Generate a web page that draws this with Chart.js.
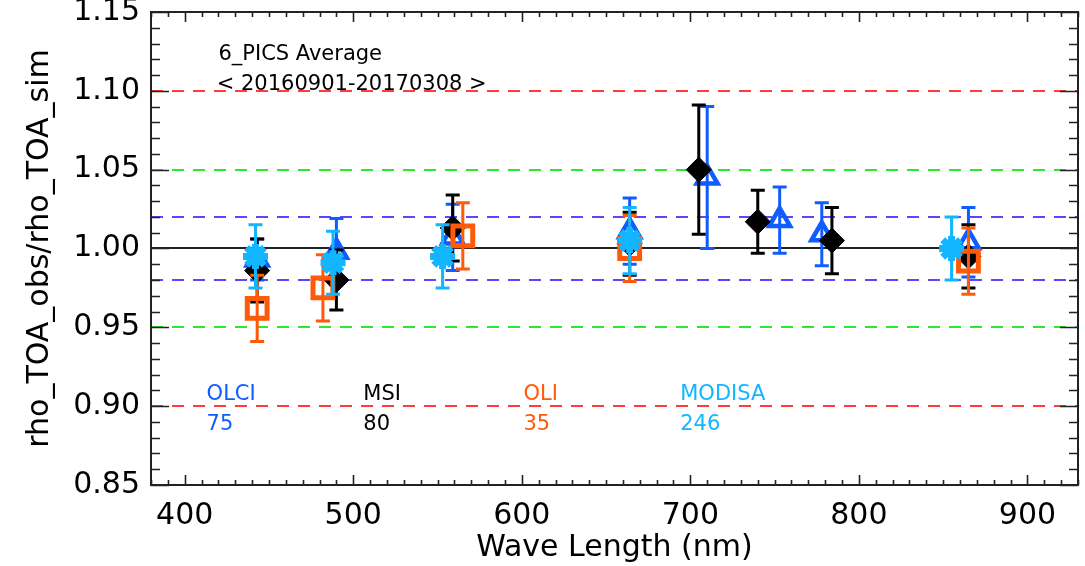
<!DOCTYPE html>
<html>
<head>
<meta charset="utf-8">
<script src="https://cdn.jsdelivr.net/npm/chart.js@4.4.1/dist/chart.umd.min.js"></script>
<style>
  html, body { margin: 0; padding: 0; background: #ffffff; }
  #wrap { width: 1085px; height: 566px; }
</style>
</head>
<body>
<div id="wrap"><canvas id="c" width="1085" height="566"></canvas></div>
<script>
// TOA reflectance ratio (observed / simulated) per band, averaged over 6 PICS sites
const olciWave  = [443, 490, 559, 664, 710, 753, 778, 865];
const olciRatio = [0.993, 0.998, 1.007, 1.011, 1.045, 1.018, 1.009, 1.004];
const olciErr   = [0.013, 0.021, 0.021, 0.021, 0.045, 0.021, 0.020, 0.022];

const msiWave  = [443, 490, 559, 664, 705, 740, 784, 865];
const msiRatio = [0.986, 0.980, 1.013, 1.003, 1.050, 1.017, 1.005, 0.995];
const msiErr   = [0.020, 0.019, 0.021, 0.020, 0.041, 0.020, 0.021, 0.020];

const oliWave  = [443, 482, 565, 664, 865];
const oliRatio = [0.962, 0.975, 1.008, 1.000, 0.992];
const oliErr   = [0.021, 0.021, 0.021, 0.021, 0.021];

const modisWave  = [442, 488, 553, 664, 855];
const modisRatio = [0.995, 0.991, 0.995, 1.005, 1.000];
const modisErr   = [0.020, 0.020, 0.020, 0.021, 0.020];

const sensorNames  = ['OLCI', 'MSI', 'OLI', 'MODISA'];
const sensorCounts = [75, 80, 35, 246];

// reference levels
const unityLevel  = [1.00];
const level2pct   = [0.98, 1.02];
const level5pct   = [0.95, 1.05];
const level10pct  = [0.90, 1.10];

// axis ticks
const xTicks = [400, 500, 600, 700, 800, 900];
const yTicks = [0.85, 0.90, 0.95, 1.00, 1.05, 1.10, 1.15];

const titleLines = ['6_PICS Average', '< 20160901-20170308 >'];

const FONT = 'DejaVu Sans';
const C_OLCI = '#0f5cff';
const C_MSI = '#000000';
const C_OLI = '#ff5a0a';
const C_MODIS = '#12b5ff';

function pts(w, r, e) {
  return w.map((x, i) => ({ x: x, y: r[i], e: e[i] }));
}

// vertical error bars, drawn just beneath each series' markers
const errorBars = {
  id: 'errorBars',
  beforeDatasetDraw(chart, args) {
    const ds = chart.data.datasets[args.index];
    const xs = chart.scales.x, ys = chart.scales.y;
    const ctx = chart.ctx;
    ctx.save();
    ctx.strokeStyle = ds.errColor;
    ctx.lineWidth = 3;
    ctx.lineCap = 'butt';
    ds.data.forEach(p => {
      const px = xs.getPixelForValue(p.x);
      const yt = ys.getPixelForValue(p.y + p.e);
      const yb = ys.getPixelForValue(p.y - p.e);
      ctx.beginPath();
      ctx.moveTo(px, yt); ctx.lineTo(px, yb);
      ctx.moveTo(px - 7, yt); ctx.lineTo(px + 7, yt);
      ctx.moveTo(px - 7, yb); ctx.lineTo(px + 7, yb);
      ctx.stroke();
    });
    ctx.restore();
  }
};

// horizontal reference lines across the plot
const refLines = {
  id: 'refLines',
  beforeDatasetsDraw(chart) {
    const { ctx, chartArea: a } = chart;
    const ys = chart.scales.y;
    const draw = (vals, color, dash) => {
      ctx.save();
      ctx.strokeStyle = color;
      ctx.lineWidth = 2;
      ctx.setLineDash(dash);
      vals.forEach(v => {
        const py = Math.round(ys.getPixelForValue(v));
        ctx.beginPath();
        ctx.moveTo(a.left, py); ctx.lineTo(a.right, py);
        ctx.stroke();
      });
      ctx.restore();
    };
    draw(level10pct, '#ff3c3c', [12, 9]);
    draw(level5pct, '#2ee82e', [12, 9]);
    draw(level2pct, '#5a46ff', [12, 9]);
    draw(unityLevel, '#222222', []);
  }
};

// plot frame with inward ticks on all four sides, plus text annotations
const frameAndText = {
  id: 'frameAndText',
  afterDraw(chart) {
    const { ctx, chartArea: a } = chart;
    const xs = chart.scales.x, ys = chart.scales.y;
    ctx.save();
    ctx.strokeStyle = '#222222';
    ctx.lineWidth = 2;
    ctx.strokeRect(a.left, a.top, a.right - a.left, a.bottom - a.top);
    ctx.lineWidth = 1.6;
    ctx.beginPath();
    for (let v = 380; v <= 930; v += 10) {
      const px = Math.round(xs.getPixelForValue(v)) + 0.5;
      const len = (v % 100 === 0) ? 10 : 5;
      ctx.moveTo(px, a.bottom); ctx.lineTo(px, a.bottom - len);
      ctx.moveTo(px, a.top); ctx.lineTo(px, a.top + len);
    }
    for (let k = 85; k <= 115; k += 1) {
      const py = Math.round(ys.getPixelForValue(k / 100)) + 0.5;
      const len = (k % 5 === 0) ? 18 : 9;
      ctx.moveTo(a.left, py); ctx.lineTo(a.left + len, py);
      ctx.moveTo(a.right, py); ctx.lineTo(a.right - len, py);
    }
    ctx.stroke();

    // title block
    ctx.fillStyle = '#000000';
    ctx.font = '21px "' + FONT + '"';
    ctx.textBaseline = 'middle';
    ctx.textAlign = 'left';
    ctx.fillText(titleLines[0], xs.getPixelForValue(420), ys.getPixelForValue(1.123));
    ctx.fillText(titleLines[1], xs.getPixelForValue(419), ys.getPixelForValue(1.104));

    // sensor names and sample counts
    const colors = [C_OLCI, C_MSI, C_OLI, C_MODIS];
    const at = [413, 506, 601, 694];
    sensorNames.forEach((n, i) => {
      ctx.fillStyle = colors[i];
      const px = xs.getPixelForValue(at[i]);
      ctx.fillText(n, px, ys.getPixelForValue(0.9075));
      ctx.fillText(String(sensorCounts[i]), px, ys.getPixelForValue(0.8885));
    });
    ctx.restore();
  }
};

new Chart(document.getElementById('c'), {
  type: 'scatter',
  data: {
    datasets: [
      {
        label: 'OLCI', data: pts(olciWave, olciRatio, olciErr), order: 3,
        pointStyle: 'triangle', radius: 12, borderWidth: 4.5,
        borderColor: C_OLCI, backgroundColor: 'rgba(0,0,0,0)', errColor: C_OLCI
      },
      {
        label: 'MSI', data: pts(msiWave, msiRatio, msiErr), order: 2,
        pointStyle: 'rectRot', radius: 12.5, borderWidth: 1,
        borderColor: C_MSI, backgroundColor: C_MSI, errColor: C_MSI
      },
      {
        label: 'OLI', data: pts(oliWave, oliRatio, oliErr), order: 1,
        pointStyle: 'rect', radius: 14, borderWidth: 5,
        borderColor: C_OLI, backgroundColor: 'rgba(0,0,0,0)', errColor: C_OLI
      },
      {
        label: 'MODISA', data: pts(modisWave, modisRatio, modisErr), order: 0,
        pointStyle: 'star', radius: 12.5, borderWidth: 7,
        borderColor: C_MODIS, backgroundColor: C_MODIS, errColor: C_MODIS
      }
    ]
  },
  options: {
    responsive: false,
    animation: false,
    events: [],
    layout: { autoPadding: false, padding: { top: 12, right: 7, left: 0, bottom: 0 } },
    plugins: { legend: { display: false }, tooltip: { enabled: false } },
    scales: {
      x: {
        type: 'linear', min: 380, max: 930,
        grid: { display: false, drawTicks: false },
        border: { display: false },
        afterBuildTicks: s => { s.ticks = xTicks.map(v => ({ value: v })); },
        afterFit: s => { s.height = 81; },
        ticks: {
          font: { family: FONT, size: 30 }, color: '#000000', padding: 13,
          maxRotation: 0, autoSkip: false,
          callback: v => String(v)
        },
        title: {
          display: true, text: 'Wave Length (nm)', color: '#000000',
          font: { family: FONT, size: 30, lineHeight: 1.2 },
          padding: { top: 0, bottom: 0 }
        }
      },
      y: {
        type: 'linear', min: 0.85, max: 1.15,
        grid: { display: false, drawTicks: false },
        border: { display: false },
        afterBuildTicks: s => { s.ticks = yTicks.map(v => ({ value: v })); },
        afterFit: s => { s.width = 151; s.paddingTop = 0; s.paddingBottom = 0; },
        ticks: {
          font: { family: FONT, size: 30, lineHeight: 0.3 }, color: '#000000', padding: 11,
          autoSkip: false,
          callback: v => Number(v).toFixed(2)
        },
        title: {
          display: true, text: 'rho_TOA_obs/rho_TOA_sim', color: '#000000',
          font: { family: FONT, size: 30, lineHeight: 1.2 },
          padding: { top: 22, bottom: 0 }
        }
      }
    }
  },
  plugins: [refLines, errorBars, frameAndText]
});
</script>
</body>
</html>
